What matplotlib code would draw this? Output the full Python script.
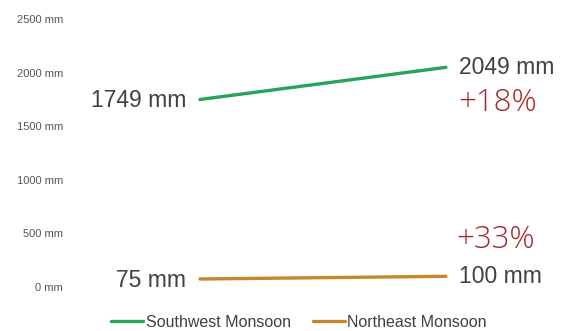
import matplotlib
matplotlib.use("Agg")
import matplotlib.pyplot as plt

# monsoon rainfall, start vs end
periods = [0, 1]
southwest = [1749, 2049]
northeast = [75, 100]
series_names = ["Southwest Monsoon", "Northeast Monsoon"]
changes = ["+18%", "+33%"]
yticks = [0, 500, 1000, 1500, 2000, 2500]

colors = ["#27a35a", "#c8842f"]
text_col = "#404040"
pct_col = "#a3282e"

plt.rcParams["font.family"] = ["Liberation Sans", "DejaVu Sans"]

fig = plt.figure(figsize=(5.62, 3.31), dpi=100)
ax = fig.add_axes([70 / 562, 0, 1 - 70 / 562, 1])
ax.set_xlim(-0.528, 1.472)
ax.set_ylim(-410, 2677)

for vals, c, name in zip([southwest, northeast], colors, series_names):
    ax.plot(periods, vals, color=c, lw=2.4, solid_capstyle="round", label=name)

# value labels at both ends
for vals in [southwest, northeast]:
    ax.annotate(f"{vals[0]} mm", (periods[0], vals[0]), xytext=(-10, -1),
                textcoords="offset points", ha="right", va="center",
                fontsize=16.5, color=text_col)
    ax.annotate(f"{vals[1]} mm", (periods[1], vals[1]), xytext=(9.5, 0),
                textcoords="offset points", ha="left", va="center",
                fontsize=16.5, color=text_col)

pct_font = ["Open Sans", "DejaVu Sans"]
ax.annotate(changes[0], (periods[1], southwest[1]), xytext=(9, -26),
            textcoords="offset points", ha="left", va="center",
            fontsize=22.5, color=pct_col, family=pct_font, fontweight="light")
ax.annotate(changes[1], (periods[1], northeast[1]), xytext=(7.5, 26),
            textcoords="offset points", ha="left", va="center",
            fontsize=22.5, color=pct_col, family=pct_font, fontweight="light")

ax.set_yticks(yticks)
ax.set_yticklabels([f"{t} mm" for t in yticks])
ax.tick_params(axis="y", length=0, pad=5, labelsize=8, labelcolor="#555555")
ax.set_xticks([])
for s in ax.spines.values():
    s.set_visible(False)

fig.legend(loc="lower center", bbox_to_anchor=(0.532, -0.04), ncol=2, frameon=False,
           fontsize=11.5, handlelength=2.0, handletextpad=0.15, columnspacing=1.4,
           labelcolor=text_col)

fig.savefig("out.png", dpi=100)
